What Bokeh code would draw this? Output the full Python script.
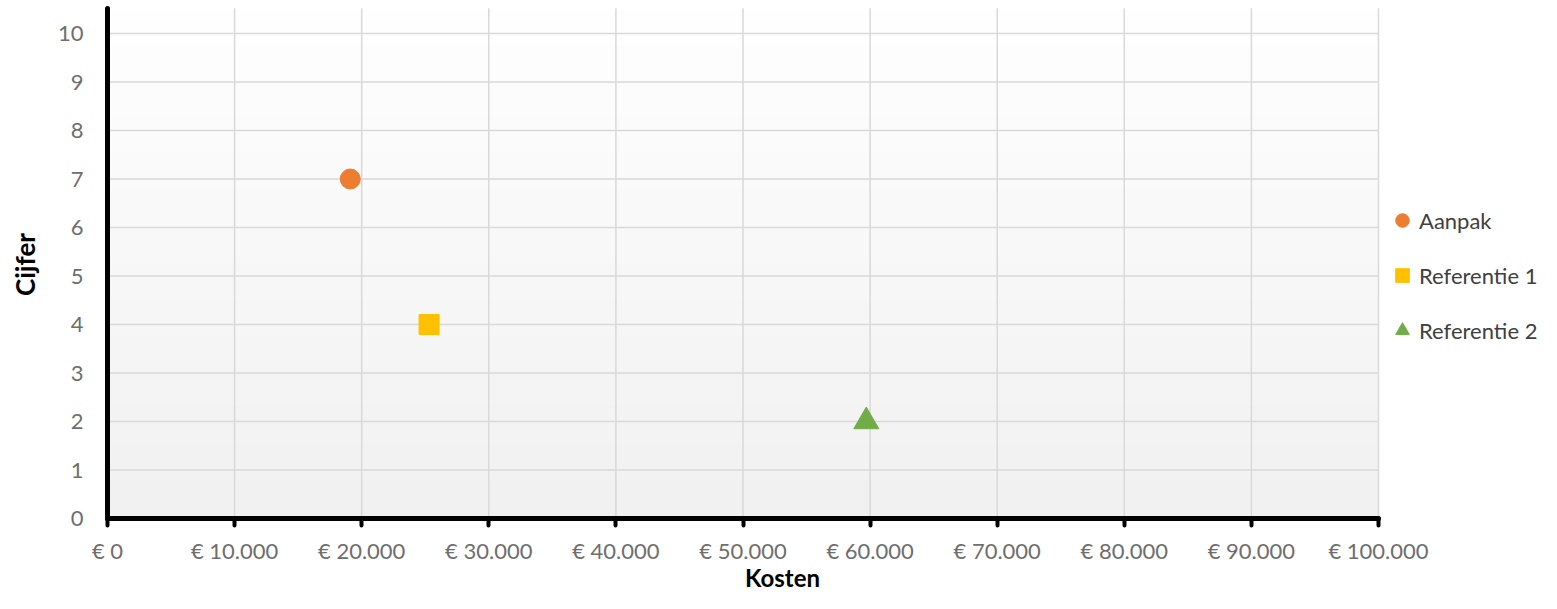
import math
import numpy as np
from bokeh.plotting import figure
from bokeh.models import Range1d, FixedTicker, Legend, LegendItem, Label
from bokeh.embed import file_html
from bokeh.resources import INLINE

# ---- data ----
series_names = ["Aanpak", "Referentie 1", "Referentie 2"]
kosten = [19100, 25300, 59700]
cijfer = [7, 4, 2]
markers = ["circle", "square", "triangle"]
colors = ["#ED7D31", "#FFC000", "#70AD47"]
marker_sizes = [20, 20, 25]

x_ticks = [0, 10000, 20000, 30000, 40000, 50000, 60000, 70000, 80000, 90000, 100000]
x_tick_labels = ["€ 0", "€ 10.000", "€ 20.000", "€ 30.000", "€ 40.000", "€ 50.000",
                 "€ 60.000", "€ 70.000", "€ 80.000", "€ 90.000", "€ 100.000"]
y_ticks = [0, 1, 2, 3, 4, 5, 6, 7, 8, 9, 10]
y_tick_labels = [str(v) for v in y_ticks]

x_title = "Kosten"
y_title = "Cijfer"

FONT = "Lato"
X_MAX = 100000      # axis extent
Y_MAX = 10.52       # plot-area top (axis line end)

# ---- layout (pixels) ----
W, H = 1541, 593
X0_PX, X1_PX = 107, 1378     # screen x of 0 and X_MAX
Y0_PX, Y10_PX = 518, 33      # screen y of 0 and 10
sx = (X1_PX - X0_PX) / X_MAX
sy = (Y0_PX - Y10_PX) / 10.0
x_range = Range1d(-X0_PX / sx, (W - X0_PX) / sx)
y_range = Range1d(-(H - Y0_PX) / sy, Y0_PX / sy)

p = figure(width=W, height=H, output_backend="svg", toolbar_location=None,
           x_range=x_range, y_range=y_range,
           min_border=0, min_border_left=0, min_border_right=0,
           min_border_top=0, min_border_bottom=0)
p.outline_line_color = None
p.background_fill_color = "white"
p.border_fill_color = "white"
p.grid.visible = False

# gradient background of the plot area
n = 256
t = np.linspace(0, 1, n)[:, None]  # 0 bottom -> 1 top
grey = (0.945 + 0.055 * t) * 255
img = np.zeros((n, 2), dtype=np.uint32)
view = img.view(dtype=np.uint8).reshape((n, 2, 4))
view[:, :, 0] = grey
view[:, :, 1] = grey
view[:, :, 2] = grey
view[:, :, 3] = 255
bg = p.image_rgba(image=[img], x=0, y=0, dw=X_MAX, dh=Y_MAX)
bg.level = "image"

# gridlines restricted to the plot area
p.segment(x0=x_ticks, x1=x_ticks, y0=[0] * len(x_ticks), y1=[Y_MAX] * len(x_ticks),
          line_color="#d9d9d9", line_width=1.5, level="underlay")
p.segment(x0=[0] * len(y_ticks), x1=[X_MAX] * len(y_ticks), y0=y_ticks, y1=y_ticks,
          line_color="#d9d9d9", line_width=1.5, level="underlay")

# axes
xa = p.xaxis[0]
ya = p.yaxis[0]
xa.fixed_location = 0
ya.fixed_location = 0
xa.bounds = (0, X_MAX)
ya.bounds = (0, Y_MAX)
xa.ticker = FixedTicker(ticks=x_ticks)
ya.ticker = FixedTicker(ticks=y_ticks)
xa.major_label_overrides = {t_: l for t_, l in zip(x_ticks, x_tick_labels)}
ya.major_label_overrides = {t_: l for t_, l in zip(y_ticks, y_tick_labels)}
for ax in (xa, ya):
    ax.axis_line_color = "black"
    ax.axis_line_width = 5
    ax.axis_line_cap = "round"
    ax.minor_tick_line_color = None
    ax.major_label_text_font = FONT
    ax.major_label_text_font_size = "22px"
    ax.major_label_text_color = "#6e6e6e"
xa.major_tick_line_color = "black"
xa.major_tick_line_width = 4
xa.major_tick_line_cap = "round"
xa.major_tick_out = 7
xa.major_tick_in = 0
xa.major_label_standoff = 11
ya.major_tick_line_color = None
ya.major_tick_out = 0
ya.major_tick_in = 0
ya.major_label_standoff = 24

# axis titles
p.add_layout(Label(x=(782 - X0_PX) / sx, y=(Y0_PX - 577) / sy, text=x_title,
                   text_align="center", text_baseline="middle", text_font=FONT,
                   text_font_style="bold", text_font_size="24px", text_color="black"))
p.add_layout(Label(x=(24 - X0_PX) / sx, y=(Y0_PX - 264) / sy, text=y_title,
                   angle=math.pi / 2, text_align="center", text_baseline="middle",
                   text_font=FONT, text_font_style="bold", text_font_size="26px",
                   text_color="black"))

items = []
for name, xv, yv, mk, c, s in zip(series_names, kosten, cijfer, markers, colors, marker_sizes):
    r = p.scatter(x=[xv], y=[yv], marker=mk, size=s, fill_color=c, line_color=c)
    items.append(LegendItem(label=name, renderers=[r]))

legend = Legend(items=items, location=(1385, H - 348))
legend.orientation = "vertical"
legend.padding = 0
legend.margin = 0
legend.spacing = 19
legend.glyph_width = 34
legend.glyph_height = 36
legend.label_standoff = 0
legend.label_text_font = FONT
legend.label_text_font_size = "22px"
legend.label_text_color = "#404040"
legend.border_line_color = None
legend.background_fill_alpha = 0
p.add_layout(legend)

open("out.html", "w").write(file_html(p, INLINE))
